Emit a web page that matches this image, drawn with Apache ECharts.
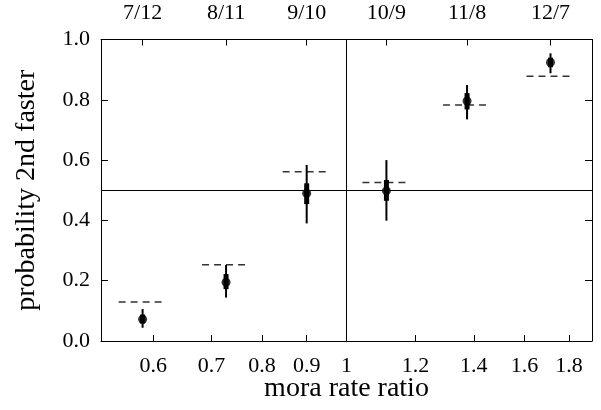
<!DOCTYPE html>
<html>
<head>
<meta charset="utf-8">
<script src="https://cdn.jsdelivr.net/npm/echarts@6/dist/echarts.min.js"></script>
<style>html,body{margin:0;padding:0;background:#fff}#c{width:601px;height:410px}</style>
</head>
<body>
<div id="c"></div>
<script>
// Data
var ratioLabels = ['7/12', '8/11', '9/10', '10/9', '11/8', '12/7'];
var ratioValues = [7/12, 8/11, 9/10, 10/9, 11/8, 12/7];
var probs       = [0.072, 0.195, 0.490, 0.498, 0.796, 0.924];
var lower       = [0.044, 0.144, 0.390, 0.399, 0.735, 0.888];
var upper       = [0.106, 0.252, 0.584, 0.600, 0.849, 0.954];
var innerLower  = [0.058, 0.172, 0.454, 0.465, 0.768, 0.908];
var innerUpper  = [0.088, 0.222, 0.523, 0.534, 0.822, 0.940];
var predicted   = [0.129, 0.253, 0.561, 0.526, 0.783, 0.878];
var bottomTicks = [0.6, 0.7, 0.8, 0.9, 1, 1.2, 1.4, 1.6, 1.8];
var bottomTickLabels = ['0.6', '0.7', '0.8', '0.9', '1', '1.2', '1.4', '1.6', '1.8'];
var yTicks = ['0.0', '0.2', '0.4', '0.6', '0.8', '1.0'];
var xMin = 0.5226, xMax = 1.913;

var L = Math.log;
function nearestLabel(v, vals, labs) {
  var best = 0, bd = Infinity;
  for (var i = 0; i < vals.length; i++) {
    var d = Math.abs(L(vals[i]) - v);
    if (d < bd) { bd = d; best = i; }
  }
  return labs[best];
}

var pts = ratioValues.map(function (r, i) { return [L(r), probs[i]]; });
var bars = ratioValues.map(function (r, i) { return [L(r), lower[i], upper[i], innerLower[i], innerUpper[i]]; });
var preds = ratioValues.map(function (r, i) { return [L(r), predicted[i]]; });

var font = '"Liberation Serif", "Times New Roman", serif';
var tickFont = 22, titleFont = 28;
var chart = echarts.init(document.getElementById('c'), null, {renderer: 'canvas'});
var axisLineStyle = {color: '#000', width: 1};
chart.setOption({
  animation: false,
  backgroundColor: '#fff',
  grid: {left: 101, right: 9, top: 39.5, bottom: 69, containLabel: false, outerBoundsMode: 'none'},
  xAxis: [{
    type: 'value', position: 'bottom', min: L(xMin), max: L(xMax),
    axisLine: {onZero: false, lineStyle: axisLineStyle},
    axisTick: {inside: true, length: 6, lineStyle: axisLineStyle, customValues: bottomTicks.map(L)},
    axisLabel: {
      customValues: bottomTicks.map(L), margin: 14, color: '#000', fontFamily: font, fontSize: tickFont,
      formatter: function (v) { return nearestLabel(v, bottomTicks, bottomTickLabels); }
    },
    splitLine: {show: false},
    name: 'mora rate ratio', nameLocation: 'middle', nameGap: 34, nameMoveOverlap: false,
    nameTextStyle: {color: '#000', fontFamily: font, fontSize: titleFont}
  }, {
    type: 'value', position: 'top', min: L(xMin), max: L(xMax),
    axisLine: {onZero: false, lineStyle: axisLineStyle},
    axisTick: {inside: true, length: 6, lineStyle: axisLineStyle, customValues: ratioValues.map(L)},
    axisLabel: {
      customValues: ratioValues.map(L), margin: 15, color: '#000', fontFamily: font, fontSize: tickFont,
      formatter: function (v) { return nearestLabel(v, ratioValues, ratioLabels); }
    },
    splitLine: {show: false}
  }],
  yAxis: [{
    type: 'value', position: 'left', min: 0, max: 1, interval: 0.2,
    axisLine: {show: true, onZero: false, lineStyle: axisLineStyle},
    axisTick: {show: true, inside: true, length: 7, lineStyle: axisLineStyle},
    axisLabel: {margin: 11, color: '#000', fontFamily: font, fontSize: tickFont,
      formatter: function (v) { return yTicks[Math.round(v / 0.2)]; }},
    splitLine: {show: false},
    name: 'probability 2nd faster', nameLocation: 'middle', nameGap: 60, nameMoveOverlap: false,
    nameTextStyle: {color: '#000', fontFamily: font, fontSize: titleFont}
  }, {
    type: 'value', position: 'right', min: 0, max: 1, interval: 0.2,
    axisLine: {show: true, onZero: false, lineStyle: axisLineStyle},
    axisTick: {show: true, inside: true, length: 7, lineStyle: axisLineStyle},
    axisLabel: {show: false},
    splitLine: {show: false}
  }],
  series: [{
    type: 'custom',
    xAxisIndex: 0, yAxisIndex: 0,
    data: preds,
    encode: {x: 0, y: 1},
    renderItem: function (params, api) {
      var c = api.coord([api.value(0), api.value(1)]);
      return {
        type: 'line',
        shape: {x1: c[0] - 24, y1: c[1], x2: c[0] + 24, y2: c[1]},
        style: {stroke: '#333', lineWidth: 1.5, lineDash: [7, 5]}
      };
    },
    silent: true, z: 2
  }, {
    type: 'custom',
    xAxisIndex: 0, yAxisIndex: 0,
    data: bars,
    encode: {x: 0, y: [1, 2]},
    renderItem: function (params, api) {
      var x = api.value(0);
      var a = api.coord([x, api.value(1)]);
      var b = api.coord([x, api.value(2)]);
      var c = api.coord([x, api.value(3)]);
      var d = api.coord([x, api.value(4)]);
      return {
        type: 'group',
        children: [{
          type: 'line', shape: {x1: a[0], y1: a[1], x2: b[0], y2: b[1]},
          style: {stroke: '#000', lineWidth: 2}
        }, {
          type: 'line', shape: {x1: c[0], y1: c[1], x2: d[0], y2: d[1]},
          style: {stroke: '#000', lineWidth: 5}
        }]
      };
    },
    silent: true, z: 3
  }, {
    type: 'scatter',
    xAxisIndex: 0, yAxisIndex: 0,
    data: pts,
    symbol: 'circle', symbolSize: 9,
    itemStyle: {color: '#000'},
    z: 4,
    markLine: {
      silent: true, symbol: 'none', animation: false,
      label: {show: false},
      lineStyle: {color: '#000', type: 'solid', width: 1},
      data: [{xAxis: 0}, {yAxis: 0.5}]
    }
  }]
});
</script>
</body>
</html>
